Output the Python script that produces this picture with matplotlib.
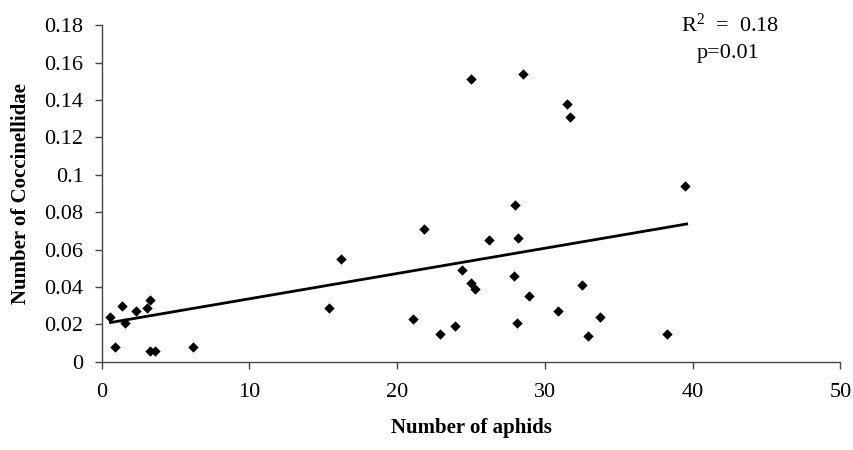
import matplotlib
matplotlib.use("Agg")
import matplotlib.pyplot as plt

plt.rcParams['font.family'] = ['Liberation Serif', 'DejaVu Serif']
plt.rcParams['mathtext.fontset'] = 'custom'
plt.rcParams['mathtext.rm'] = 'Liberation Serif'
plt.rcParams['mathtext.it'] = 'Liberation Serif:italic'

# Coccinellidae vs aphids
aphids = [0.6, 1.4, 0.9, 1.6, 2.3, 3.1, 3.3, 3.3, 3.6, 6.2,
          15.4, 16.2, 21.8, 21.1, 22.9, 23.9, 24.4, 25.0, 25.3, 26.2,
          28.0, 28.2, 27.9, 28.9, 28.1, 25.0, 28.5,
          31.5, 31.7, 39.5, 32.5, 30.9, 33.7, 32.9, 38.3]
cocci = [0.024, 0.030, 0.008, 0.021, 0.027, 0.029, 0.033, 0.006, 0.006, 0.008,
         0.029, 0.055, 0.071, 0.023, 0.015, 0.019, 0.049, 0.042, 0.039, 0.065,
         0.084, 0.066, 0.046, 0.035, 0.021, 0.151, 0.154,
         0.138, 0.131, 0.094, 0.041, 0.027, 0.024, 0.014, 0.015]

# fitted line ends
fit_x = [0.6, 39.6]
fit_y = [0.021, 0.0737]

fig = plt.figure(figsize=(8.54, 4.5), dpi=100)
ax = fig.add_axes([0.119, 0.196, 0.865, 0.748])

ax.scatter(aphids, cocci, marker='D', s=28, color='black', zorder=3, linewidths=0)
ax.plot(fit_x, fit_y, color='black', lw=2)

ax.set_xlim(0, 50)
ax.set_ylim(0, 0.18)
ax.set_xticks([0, 10, 20, 30, 40, 50])
ax.set_yticks([0, 0.02, 0.04, 0.06, 0.08, 0.1, 0.12, 0.14, 0.16, 0.18])
ax.set_yticklabels(['0', '0.02', '0.04', '0.06', '0.08', '0.1', '0.12', '0.14', '0.16', '0.18'])

for s in ['top', 'right']:
    ax.spines[s].set_visible(False)
for s in ['left', 'bottom']:
    ax.spines[s].set_color('#444444')
    ax.spines[s].set_linewidth(1)
ax.tick_params(direction='out', length=5, width=1, color='#444444', labelsize=16, pad=8)
ax.tick_params(axis='x', pad=10)

ax.set_xlabel('Number of aphids', fontsize=15, fontweight='bold', labelpad=12)
ax.set_ylabel('Number of Coccinellidae', fontsize=15, fontweight='bold', labelpad=10)

fig.text(0.855, 0.944, r'R$^2$  =  0.18', ha='center', va='center', fontsize=16)
fig.text(0.853, 0.882, 'p=0.01', ha='center', va='center', fontsize=16)

fig.savefig('out.png', dpi=100)
